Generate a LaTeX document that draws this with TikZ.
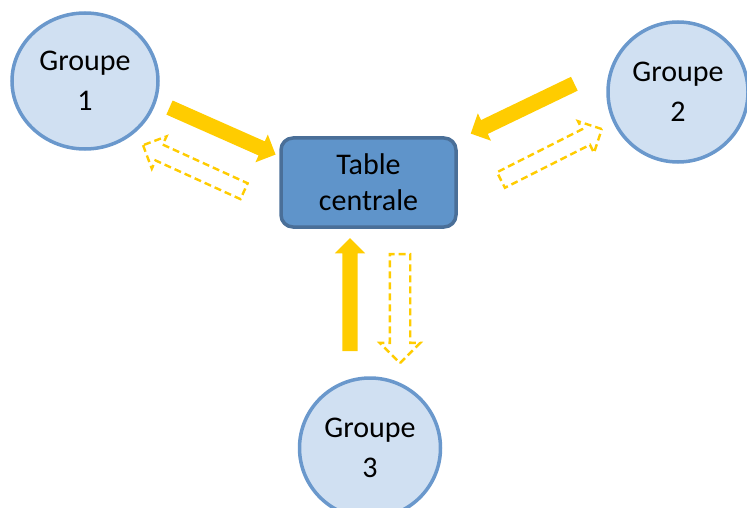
\documentclass[tikz,border=0pt]{standalone}
\usepackage{fontspec}
\setmainfont{Carlito}
\usepackage{tikz}
\usetikzlibrary{shapes.geometric, shapes.arrows, positioning, calc}
\definecolor{groupfill}{HTML}{D0E0F2}
\definecolor{groupline}{HTML}{6A98CC}
\definecolor{tablefill}{HTML}{5F94CA}
\definecolor{tableline}{HTML}{4A6F98}
\definecolor{flow}{HTML}{FFCC00}
\tikzset{
  groupe/.style={
    ellipse, draw=groupline, line width=3.5pt,
    fill=groupfill, inner sep=0pt,
    align=center, font=\fontsize{30}{40}\selectfont,
  },
  centrale/.style={
    rectangle, rounded corners=12pt,
    minimum width=175pt, minimum height=89pt,
    draw=tableline, line width=3.5pt,
    fill=tablefill, align=center,
    font=\fontsize{30}{36}\selectfont,
  },
  envoi/.style={
    single arrow, fill=flow, inner xsep=0pt, inner ysep=7.5pt,
    single arrow head extend=7.5pt,
    single arrow tip angle=90,
  },
  retour/.style={
    single arrow, draw=flow, line width=2.4pt,
    dash pattern=on 7pt off 4pt, inner xsep=0pt, inner ysep=7.5pt,
    single arrow head extend=9pt,
    single arrow tip angle=90,
  },
}

\begin{document}
\begin{tikzpicture}[x=1pt, y=-1pt]
  \useasboundingbox (0,0) rectangle (747,508);

  \node[groupe, minimum width=146pt, minimum height=136pt] (g1) at (85,81) {Groupe\\1};
  \node[groupe, minimum width=140pt, minimum height=140pt] (g2) at (678,92) {Groupe\\2};
  \node[groupe, minimum width=141pt, minimum height=140pt] (g3) at (370,448) {Groupe\\3};
  \node[centrale] (table) at (368.5,182.5) {Table\\centrale};

  % groupe 1
  \node[envoi, minimum height=116pt, rotate=-23.9] (in1) at (219,129.5) {};
  \node[retour, minimum height=111pt, rotate=155.5] (out1) at (197.5,170) {};
  % groupe 2
  \node[envoi, minimum height=115pt, rotate=205.7] (in2) at (526,107) {};
  \node[retour, minimum height=113pt, rotate=26.8] (out2) at (547.5,156.5) {};
  % groupe 3
  \node[envoi, minimum height=113pt, rotate=90] (in3) at (350,298.5) {};
  \node[retour, minimum height=109pt, inner ysep=9pt, single arrow head extend=10pt, rotate=-90] (out3) at (400,303.5) {};

\end{tikzpicture}
\end{document}
